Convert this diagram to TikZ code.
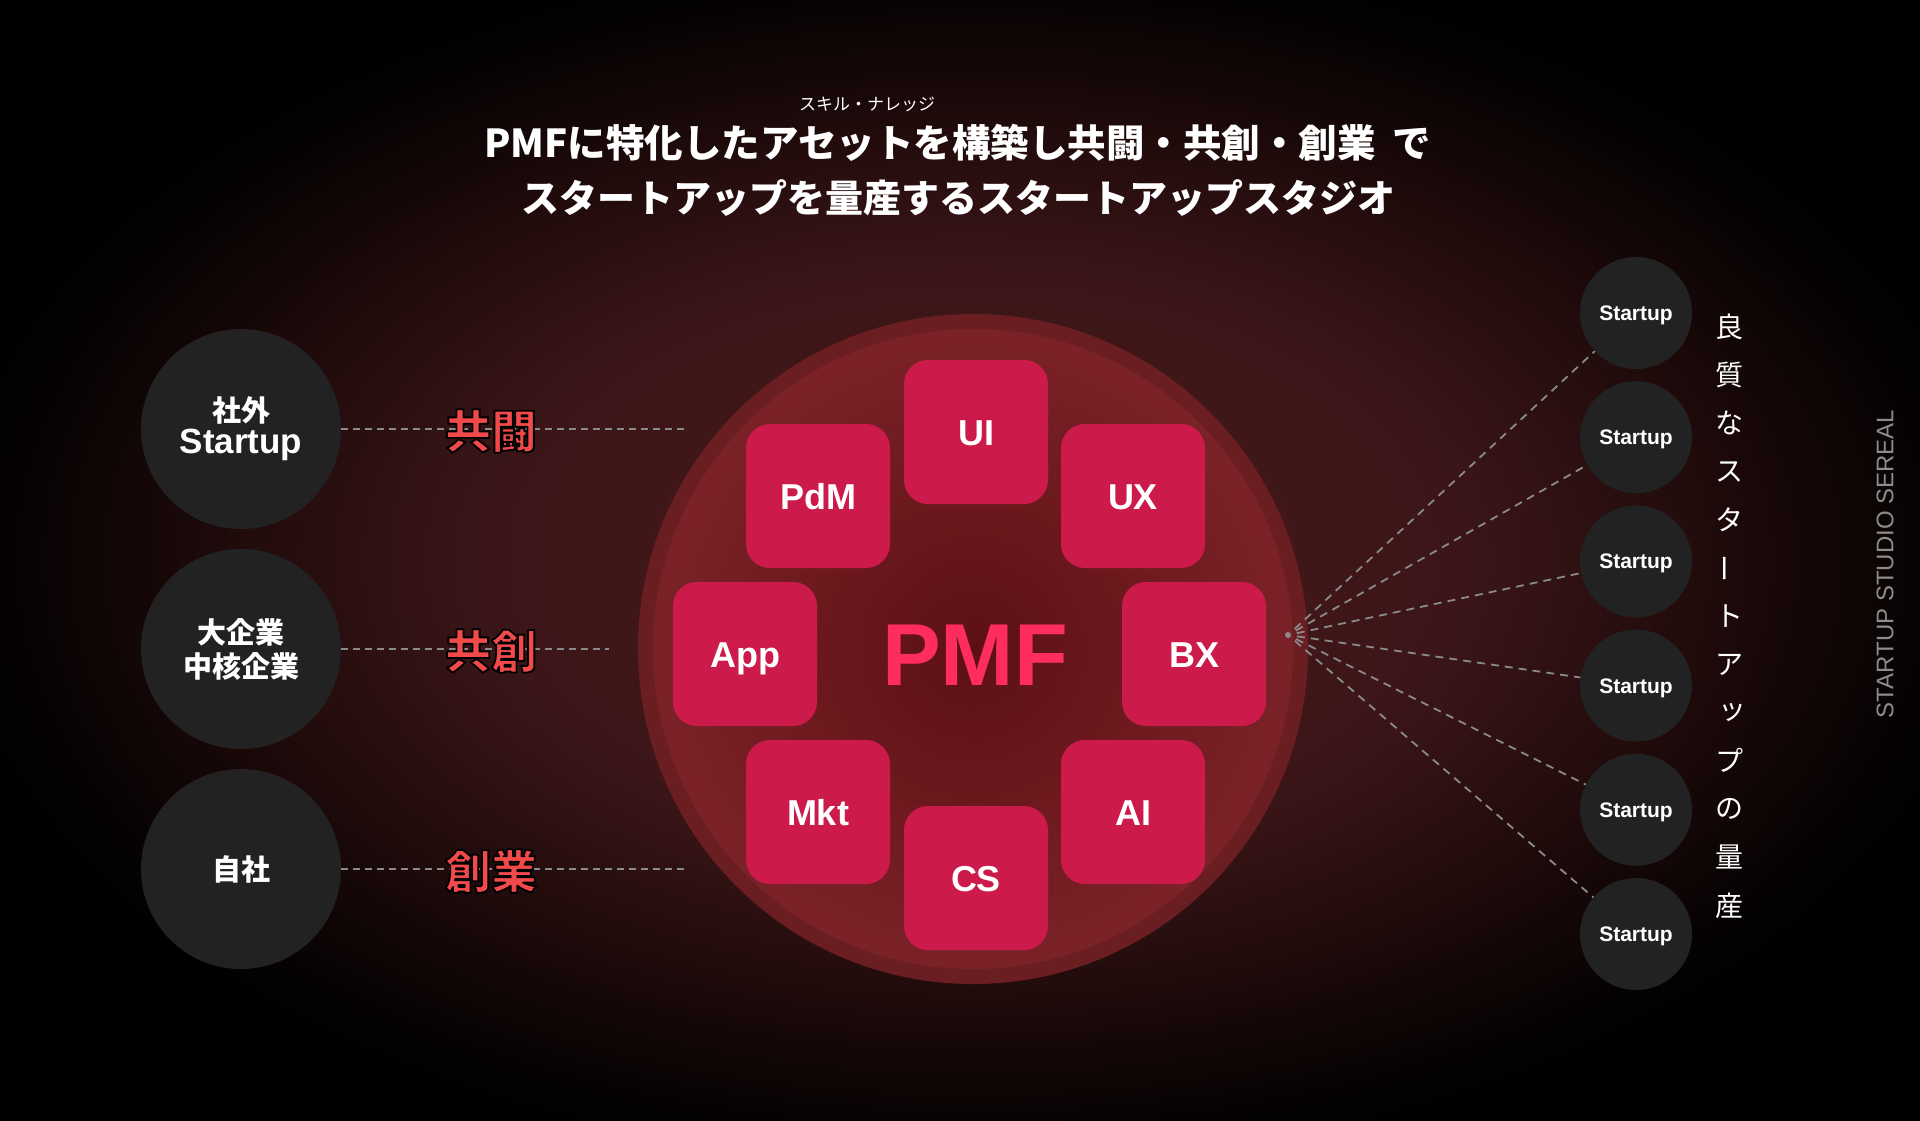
\documentclass[tikz,border=0pt]{standalone}
\usepackage{fontspec}
\setmainfont{Liberation Sans}
\newfontfamily\jp{Noto Sans CJK JP}
\usetikzlibrary{positioning}
\definecolor{glowa}{HTML}{4C1B1D}
\definecolor{glowb}{HTML}{3A1517}
\definecolor{glowc}{HTML}{1E0A0A}
\definecolor{glowd}{HTML}{060202}
\definecolor{ringred}{HTML}{6B1E21}
\definecolor{pmfin}{HTML}{5C1014}
\definecolor{pmfmid}{HTML}{6E1A1F}
\definecolor{pmfout}{HTML}{7A2228}
\definecolor{skillred}{HTML}{CC1B4B}
\definecolor{pmfpink}{HTML}{FF2D5F}
\definecolor{labred}{HTML}{F24A4A}
\definecolor{circgray}{HTML}{222222}
\definecolor{dashgray}{HTML}{8A8A8A}
\definecolor{sidegray}{HTML}{8C8C8C}
\pgfdeclareradialshading{bgglow}{\pgfpoint{0bp}{0bp}}{color(0bp)=(glowa); color(12bp)=(glowb); color(18bp)=(glowc); color(23bp)=(glowd); color(25bp)=(black); color(50bp)=(black)}
\pgfdeclareradialshading{pmfglow}{\pgfpoint{0bp}{0bp}}{color(0bp)=(pmfin); color(14bp)=(pmfmid); color(25bp)=(pmfout); color(50bp)=(pmfout)}
% rote Schrift mit schwarzem Rand
\newcommand\outlined[1]{\special{pdf:literal direct q 0.949 0.290 0.290 rg 0 0 0 RG 1.8 w 1 j 2 Tr}#1\special{pdf:literal direct Q}}

\begin{document}
\begin{tikzpicture}[x=1pt, y=-1pt,
	skill/.style={rounded corners=24pt, fill=skillred, minimum size=144pt, inner sep=0pt,
		text=white, text height=26pt, text depth=0pt, font=\fontsize{36}{40}\selectfont\bfseries},
	partner/.style={circle, fill=circgray, minimum size=200pt, inner sep=0pt, align=center,
		text=white, font=\fontsize{29}{34}\selectfont\jp\bfseries},
	startup/.style={circle, fill=circgray, minimum size=112pt, inner sep=0pt,
		text=white, text height=15pt, text depth=0pt, font=\fontsize{21}{24}\selectfont\bfseries},
	mode/.style={text=labred, inner sep=0pt, font=\fontsize{46}{50}\selectfont\jp\bfseries},
	dashline/.style={dashgray, line width=1.8pt, dash pattern=on 7pt off 5pt},
	fanline/.style={dashgray, line width=1.8pt, dash pattern=on 8pt off 6pt, shorten <=9pt},
	vchar/.style={text=white, inner sep=0pt, font=\fontsize{28}{30}\selectfont\jp}]
	% Hintergrund
	\useasboundingbox (0,0) rectangle (1920,1120);
	\fill[black] (-10,-10) rectangle (1930,1130);
	\begin{scope}
		\clip (0,0) rectangle (1920,1120);
		\shade[shading=bgglow] (973,560) ellipse (1050pt and 620pt);
	\end{scope}
	% Titel
	\node[text=white, inner sep=0pt, font=\fontsize{17}{20}\selectfont\jp] (ruby) at (867,104) {スキル・ナレッジ};
	\node[text=white, inner sep=0pt, font=\fontsize{38.5}{42}\selectfont\jp\bfseries] (title1) at (958,143) {PMFに特化したアセットを構築し共闘・共創・創業\hspace{0.45em}で};
	\node[text=white, inner sep=0pt, font=\fontsize{38}{42}\selectfont\jp\bfseries] (title2) at (958,198) {スタートアップを量産するスタートアップスタジオ};
	% PMF-Kreis
	\coordinate (mid) at (973,649);
	\fill[ringred] (mid) circle (335pt);
	\shade[shading=pmfglow] (mid) circle (320pt);
	\foreach \name/\x/\y in {UI/976/432, PdM/818/496, UX/1133/496, App/745/654,
		BX/1194/654, Mkt/818/812, AI/1133/812, CS/976/878}
		\node[skill] (\name) at (\x,\y) {\name};
	\node[text=pmfpink, inner sep=0pt, font=\fontsize{88}{90}\selectfont\bfseries] (pmf) at (975,655) {PMF};
	% linke Seite
	\node[partner] (c1) at (241,429) {社外\\[-2pt]{\fontsize{35}{36}\selectfont\rmfamily\bfseries Startup}};
	\node[partner] (c2) at (241,649) {大企業\\中核企業};
	\node[partner] (c3) at (241,869) {自社};
	\coordinate (e1) at (689,429);
	\coordinate (e2) at (609,649);
	\coordinate (e3) at (689,869);
	\foreach \i in {1,2,3} \draw[dashline] (c\i) -- (e\i);
	\node[mode] (lab1) at (491,431) {\outlined{共闘}};
	\node[mode] (lab2) at (491,651) {\outlined{共創}};
	\node[mode] (lab3) at (491,871) {\outlined{創業}};
	% rechte Seite
	\coordinate (hub) at (1288,635);
	\fill[dashgray] (hub) circle (3pt);
	\foreach \i in {1,...,6} {
		\node[startup] (s\i) at (1636,{313+124.2*(\i-1)}) {Startup};
		\draw[fanline] (hub) -- (s\i);
	}
	% senkrechter Text
	\foreach \ch/\rot/\dx [count=\i from 0] in {良/0/0, 質/0/0, な/0/0, ス/0/0, タ/0/0, ー/90/0,
		ト/0/0, ア/0/0, ッ/0/3, プ/0/0, の/0/0, 量/0/0, 産/0/0}
		\node[vchar, rotate=\rot] (v\i) at ({1729+\dx},{327+48.2*\i}) {\ch};
	\node[text=sidegray, inner sep=0pt, rotate=90, font=\fontsize{24}{26}\selectfont] (brand) at (1885,564) {STARTUP STUDIO SEREAL};
\end{tikzpicture}
\end{document}
